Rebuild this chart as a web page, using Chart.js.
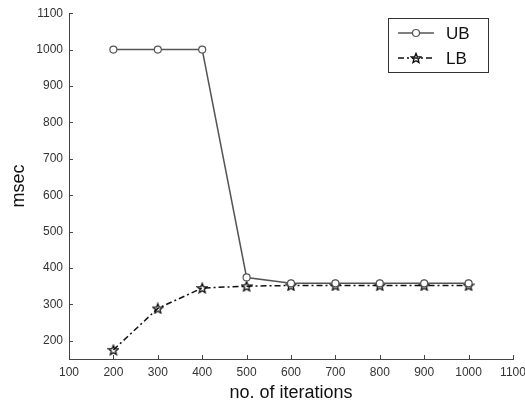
<!DOCTYPE html>
<html>
<head>
<meta charset="utf-8">
<script src="https://cdn.jsdelivr.net/npm/chart.js"></script>
<style>
  html, body { margin: 0; padding: 0; background: #ffffff; }
  #wrap { width: 525px; height: 406px; }
</style>
</head>
<body>
<div id="wrap"><canvas id="chart" width="525" height="406"></canvas></div>
<script>
// data
var iterations = [200, 300, 400, 500, 600, 700, 800, 900, 1000];
var ubValues = [1000, 1000, 1000, 374, 358, 358, 358, 358, 358];
var lbValues = [175, 289, 345, 350, 352, 352, 352, 352, 352];
var seriesLabels = ["UB", "LB"];
var xTicks = [100, 200, 300, 400, 500, 600, 700, 800, 900, 1000, 1100];
var yTicks = [200, 300, 400, 500, 600, 700, 800, 900, 1000, 1100];

function toPoints(xs, ys) {
    return xs.map(function(x, i) { return { x: x, y: ys[i] }; });
}

// five pointed star marker (Chart.js 'star' is an asterisk)
function makeStar(size, color) {
    var c = document.createElement("canvas");
    c.width = size; c.height = size;
    var g = c.getContext("2d");
    var cx = size / 2, cy = size / 2 + 0.5;
    var outer = size / 2 - 1, inner = outer * 0.45;
    g.beginPath();
    for (var i = 0; i < 10; i++) {
        var r = (i % 2) ? inner : outer;
        var a = -Math.PI / 2 + i * Math.PI / 5;
        var px = cx + r * Math.cos(a), py = cy + r * Math.sin(a);
        if (i === 0) g.moveTo(px, py); else g.lineTo(px, py);
    }
    g.closePath();
    g.strokeStyle = color;
    g.lineWidth = 1.4;
    g.stroke();
    return c;
}
var starImg = makeStar(12, "#111111");

var tickFont = { family: "'Liberation Sans Narrow', 'Liberation Sans', Arial, sans-serif", size: 12 };
var titleFont = { family: "'Liberation Sans', Arial, sans-serif", size: 18 };

// inward tick marks, matlab style
var innerTicks = {
    id: "innerTicks",
    afterDraw: function(chart) {
        var ctx = chart.ctx, a = chart.chartArea;
        var xs = chart.scales.x, ys = chart.scales.y;
        ctx.save();
        ctx.strokeStyle = "#444";
        ctx.lineWidth = 1;
        xTicks.forEach(function(v) {
            var px = Math.round(xs.getPixelForValue(v)) + 0.5;
            ctx.beginPath(); ctx.moveTo(px, a.bottom); ctx.lineTo(px, a.bottom - 4); ctx.stroke();
        });
        yTicks.forEach(function(v) {
            var py = Math.round(ys.getPixelForValue(v)) + 0.5;
            ctx.beginPath(); ctx.moveTo(a.left, py); ctx.lineTo(a.left + 4, py); ctx.stroke();
        });
        ctx.restore();
    }
};

// legend box in the upper right corner
var boxLegend = {
    id: "boxLegend",
    afterDraw: function(chart) {
        var ctx = chart.ctx;
        var x0 = 388, y0 = 18, w = 100, h = 54;
        ctx.save();
        ctx.fillStyle = "#ffffff";
        ctx.fillRect(x0, y0, w, h);
        ctx.strokeStyle = "#333";
        ctx.lineWidth = 1;
        ctx.strokeRect(x0 + 0.5, y0 + 0.5, w, h);
        var rows = [y0 + 15, y0 + 40];
        chart.data.datasets.forEach(function(ds, i) {
            var y = rows[i];
            ctx.strokeStyle = ds.borderColor;
            ctx.lineWidth = ds.borderWidth;
            ctx.setLineDash(ds.borderDash || []);
            ctx.beginPath(); ctx.moveTo(x0 + 10, y); ctx.lineTo(x0 + 46, y); ctx.stroke();
            ctx.setLineDash([]);
            if (ds.pointStyle === "circle") {
                ctx.beginPath(); ctx.arc(x0 + 28, y, ds.pointRadius, 0, Math.PI * 2);
                ctx.fillStyle = "#fff"; ctx.fill();
                ctx.strokeStyle = ds.pointBorderColor; ctx.lineWidth = 1.2; ctx.stroke();
            } else {
                ctx.drawImage(starImg, x0 + 28 - 6, y - 6);
            }
            ctx.fillStyle = "#111";
            ctx.font = "17px 'Liberation Sans', Arial, sans-serif";
            ctx.textBaseline = "middle";
            ctx.fillText(ds.label, x0 + 58, y + 1);
        });
        ctx.restore();
    }
};

function plainNumber(v) { return String(v); }

new Chart(document.getElementById("chart").getContext("2d"), {
    type: "line",
    data: {
        datasets: [{
            label: seriesLabels[0],
            data: toPoints(iterations, ubValues),
            borderColor: "#555555",
            borderWidth: 1.5,
            pointStyle: "circle",
            pointRadius: 3.5,
            pointBackgroundColor: "#ffffff",
            pointBorderColor: "#555555",
            pointBorderWidth: 1.2,
            tension: 0
        }, {
            label: seriesLabels[1],
            data: toPoints(iterations, lbValues),
            borderColor: "#111111",
            borderWidth: 1.5,
            borderDash: [6, 3, 2, 3],
            pointStyle: starImg,
            pointRadius: 6,
            tension: 0
        }]
    },
    options: {
        responsive: false,
        animation: false,
        layout: { padding: { left: 0, right: 12, top: 10, bottom: 0 } },
        plugins: { legend: { display: false }, tooltip: { enabled: false } },
        scales: {
            x: {
                type: "linear",
                min: 100, max: 1100,
                afterBuildTicks: function(s) { s.ticks = xTicks.map(function(v) { return { value: v }; }); },
                afterFit: function(s) { s.height = 47; s.paddingLeft = 0; s.paddingRight = 0; },
                grid: { display: false, drawTicks: false },
                border: { display: true, color: "#444", width: 1 },
                ticks: { font: tickFont, color: "#333", padding: 6, maxRotation: 0, callback: plainNumber },
                title: { display: true, text: "no. of iterations", font: titleFont, color: "#111", padding: { top: 0, bottom: 2 } }
            },
            y: {
                type: "linear",
                min: 150, max: 1100,
                afterBuildTicks: function(s) { s.ticks = yTicks.map(function(v) { return { value: v }; }); },
                afterFit: function(s) { s.width = 69; },
                grid: { display: false, drawTicks: false },
                border: { display: true, color: "#444", width: 1 },
                ticks: { font: tickFont, color: "#333", padding: 6, callback: plainNumber },
                title: { display: true, text: "msec", font: titleFont, color: "#111", padding: { top: 8, bottom: 0 } }
            }
        }
    },
    plugins: [innerTicks, boxLegend]
});
</script>
</body>
</html>
